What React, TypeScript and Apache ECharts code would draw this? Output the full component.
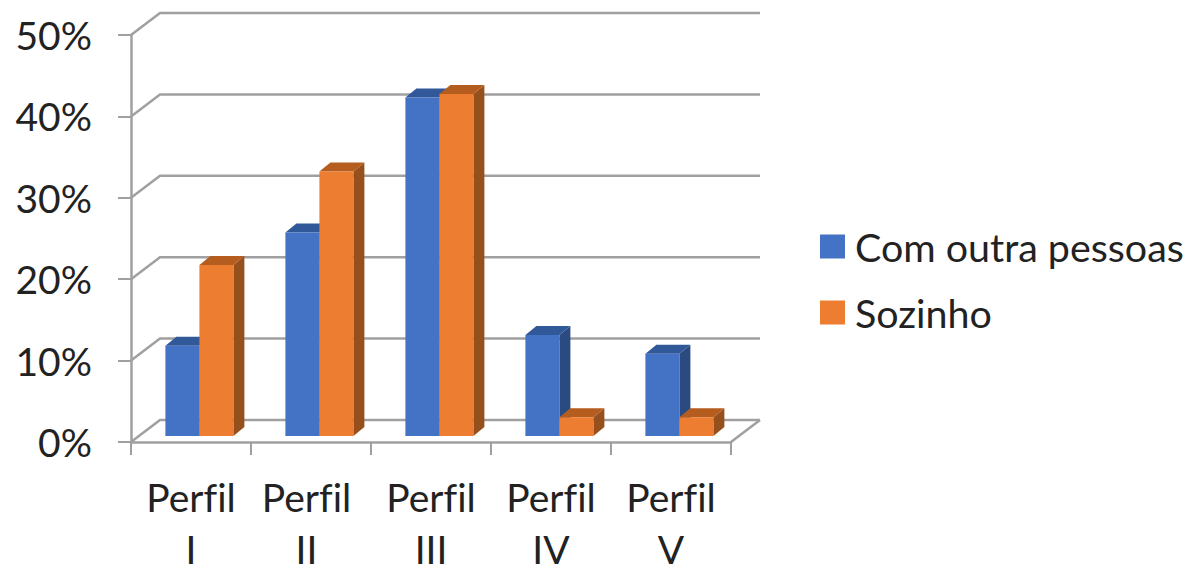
import React, { useEffect, useRef } from "react";
import * as echarts from "echarts";

const categories = ["Perfil\nI", "Perfil\nII", "Perfil\nIII", "Perfil\nIV", "Perfil\nV"];
const comOutra = [11.1, 25, 41.6, 12.4, 10.1];
const sozinho = [21, 32.5, 42, 2.3, 2.3];
const yTicks = [0, 10, 20, 30, 40, 50];
const FONT = "Lato, 'Open Sans', sans-serif";
const AXIS = "#a0a0a0";
const TEXT = "#222";
const DX = 29;
const DY = -22;

function barSeries(name: string, values: number[], slot: number, front: string, top: string, side: string) {
  return {
    type: "custom",
    name,
    z: 3,
    itemStyle: { color: front },
    data: values.map((v, i) => [i, v]),
    encode: { x: 0, y: 1 },
    renderItem: (_p: any, api: any) => {
      const [cx, yTop0] = api.coord([api.value(0), api.value(1)]);
      const w = 34;
      const x0 = cx - 25.6 + slot * w;
      const x1 = x0 + w;
      const base = api.coord([0, 0])[1] - 6;
      const yTop = yTop0 - 6;
      const dx = 11;
      const dy = -9;
      return {
        type: "group",
        children: [
          { type: "polygon", shape: { points: [[x1, base], [x1 + dx, base + dy], [x1 + dx, yTop + dy], [x1, yTop]] }, style: { fill: side } },
          { type: "polygon", shape: { points: [[x0, yTop], [x0 + dx, yTop + dy], [x1 + dx, yTop + dy], [x1, yTop]] }, style: { fill: top } },
          { type: "rect", shape: { x: x0, y: yTop, width: w, height: base - yTop }, style: { fill: front } },
        ],
      };
    },
  };
}

const richBase = { color: TEXT, fontSize: 39, fontFamily: FONT };

export default function App() {
  const ref = useRef<HTMLDivElement>(null);
  useEffect(() => {
    const chart = echarts.init(ref.current!, null, { renderer: "svg" });
    chart.setOption({
      animation: false,
      backgroundColor: "#fff",
      textStyle: { fontFamily: FONT },
      grid: { left: 131, top: 35, width: 600, height: 407, outerBoundsMode: "none", containLabel: false },
      xAxis: {
        type: "category",
        data: categories,
        axisLine: { lineStyle: { color: AXIS, width: 2.5 } },
        axisTick: { show: true, length: 13, lineStyle: { color: AXIS, width: 2 } },
        axisLabel: {
          color: TEXT,
          fontSize: 39,
          margin: 18,
          fontFamily: FONT,
          interval: 0,
          hideOverlap: false,
          formatter: (value: string, index: number) => {
            const [a, b] = value.split("\n");
            const s = index === 1 ? "2" : "";
            return `{a${s}|${a}}\n{b${s}|${b}}`;
          },
          rich: {
            a: { ...richBase, lineHeight: 74 },
            b: { ...richBase, lineHeight: 30 },
            a2: { ...richBase, lineHeight: 74, padding: [0, 9, 0, 0] },
            b2: { ...richBase, lineHeight: 30, padding: [0, 9, 0, 0] },
          },
        },
      },
      yAxis: {
        type: "value",
        min: 0,
        max: 50,
        interval: 10,
        axisLine: { show: true, lineStyle: { color: AXIS, width: 2.5 } },
        axisTick: { show: true, length: 13, lineStyle: { color: AXIS, width: 2 } },
        splitLine: { show: false },
        axisLabel: {
          formatter: "{value}%",
          color: TEXT,
          fontSize: 39,
          margin: 39,
          padding: [3, 0, 0, 0],
          fontFamily: FONT,
          showMinLabel: true,
          showMaxLabel: true,
        },
      },
      legend: {
        data: ["Com outra pessoas", "Sozinho"],
        orient: "vertical",
        left: 820,
        top: 227,
        icon: "rect",
        itemWidth: 25,
        itemHeight: 24,
        itemGap: 27,
        padding: 0,
        selectedMode: false,
        textStyle: { color: TEXT, fontSize: 39.4, fontFamily: FONT, padding: [0, 0, 0, 5] },
      },
      series: [
        {
          type: "custom",
          name: "wall",
          z: 1,
          silent: true,
          data: yTicks.map((t) => [0, t]),
          encode: { x: 0, y: 1 },
          renderItem: (_p: any, api: any) => {
            const y = api.coord([0, api.value(1)])[1];
            const left = api.coord([0, 0])[0] - 60;
            const right = left + 600;
            const children: any[] = [
              { type: "polyline", shape: { points: [[left, y], [left + DX, y + DY], [right + DX, y + DY]] }, style: { stroke: AXIS, lineWidth: 2.5, fill: "none" } },
            ];
            if (api.value(1) === 0) {
              children.push({ type: "line", shape: { x1: right, y1: y, x2: right + DX, y2: y + DY }, style: { stroke: AXIS, lineWidth: 2.5 } });
            }
            return { type: "group", children };
          },
        },
        barSeries("Com outra pessoas", comOutra, 0, "#4472C4", "#31599A", "#2A4A80"),
        barSeries("Sozinho", sozinho, 1, "#ED7D31", "#B55C1F", "#96501D"),
      ],
    });
    return () => chart.dispose();
  }, []);
  return <div ref={ref} style={{ position: "absolute", left: 0, top: 0, width: 1191, height: 564, fontVariantLigatures: "none" }} />;
}
